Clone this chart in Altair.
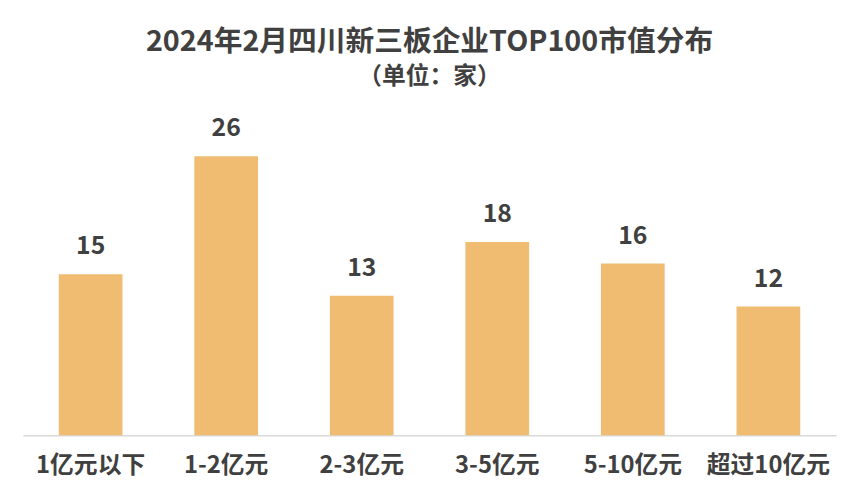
import altair as alt
import pandas as pd

categories = ["1亿元以下", "1-2亿元", "2-3亿元", "3-5亿元", "5-10亿元", "超过10亿元"]
counts = [15, 26, 13, 18, 16, 12]

df = pd.DataFrame({"category": categories, "count": counts})

FONT = "Noto Sans CJK SC"
TXT = "#404040"

x = alt.X("category:N", sort=categories, title=None,
          scale=alt.Scale(paddingInner=0.53, paddingOuter=0.265),
          axis=alt.Axis(labelAngle=0, labelFont=FONT, labelFontSize=24, labelFontWeight="bold",
                        labelColor=TXT, labelPadding=19, ticks=False, domainColor="#D9D9D9",
                        domainWidth=1.5))
y = alt.Y("count:Q", title=None, scale=alt.Scale(domain=[0, 30]), axis=None)

bars = alt.Chart(df).mark_bar(color="#F0BC72").encode(x=x, y=y)
labels = alt.Chart(df).mark_text(dy=-15, baseline="bottom", font=FONT, fontSize=25,
                                 fontWeight="bold", color=TXT).encode(
    x=alt.X("category:N", sort=categories), y="count:Q", text="count:Q")

chart = alt.layer(bars, labels).properties(
    width=821, height=325,
    autosize=alt.AutoSizeParams(type="none"),
    padding={"left": 15, "top": 104, "right": 17, "bottom": 50},
    title=alt.TitleParams(
        text="2024年2月四川新三板企业TOP100市值分布",
        subtitle="（单位：家）",
        font=FONT, fontSize=29, fontWeight="bold", color=TXT,
        subtitleFont=FONT, subtitleFontSize=24, subtitleFontWeight="bold", subtitleColor=TXT,
        subtitlePadding=8, anchor="middle", offset=25,
    ),
).configure_view(stroke=None)

chart.save("out.html", embed_options={"renderer": "svg", "actions": False})
